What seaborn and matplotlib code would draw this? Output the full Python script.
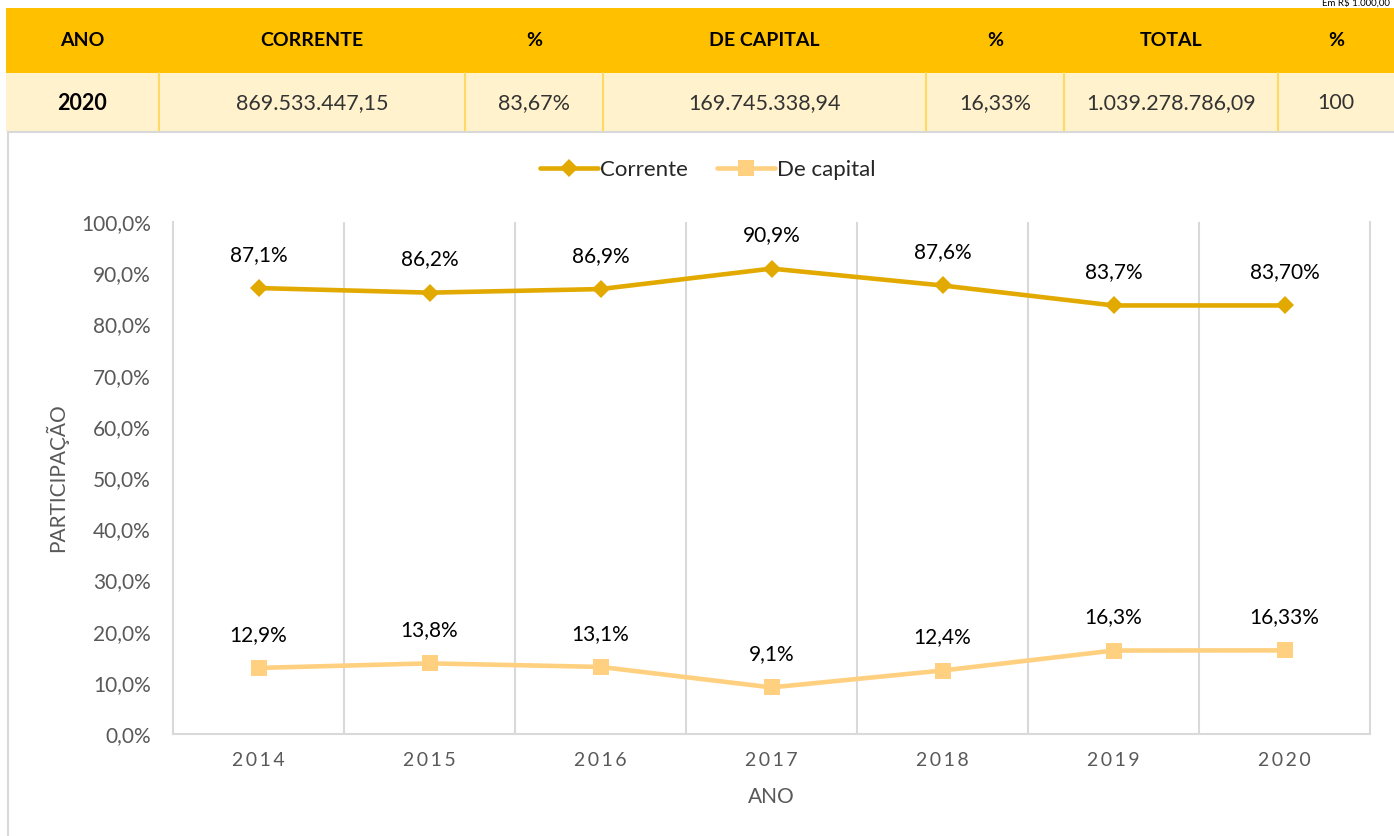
import numpy as np
import pandas as pd
import matplotlib
matplotlib.use("Agg")
import matplotlib.pyplot as plt
from matplotlib.patches import Rectangle
from matplotlib.lines import Line2D
import seaborn as sns

# ---------------- data ----------------
years = ["2014", "2015", "2016", "2017", "2018", "2019", "2020"]
corrente = [87.1, 86.2, 86.9, 90.9, 87.6, 83.7, 83.7]
corrente_labels = ["87,1%", "86,2%", "86,9%", "90,9%", "87,6%", "83,7%", "83,70%"]
capital = [12.9, 13.8, 13.1, 9.1, 12.4, 16.3, 16.33]
capital_labels = ["12,9%", "13,8%", "13,1%", "9,1%", "12,4%", "16,3%", "16,33%"]
series_names = ["Corrente", "De capital"]

table_header = ["ANO", "CORRENTE", "%", "DE CAPITAL", "%", "TOTAL", "%"]
table_row = ["2020", "869.533.447,15", "83,67%", "169.745.338,94", "16,33%",
             "1.039.278.786,09", "100"]
unit_note = "Em R$ 1.000,00"

# ---------------- style ----------------
sns.set_theme(style="white")
plt.rcParams["font.family"] = ["Lato", "DejaVu Sans"]

W, H = 1394, 836
fig = plt.figure(figsize=(W / 100, H / 100), dpi=100)

# background overlay axes in pixel coordinates for the table / borders
bg = fig.add_axes([0, 0, 1, 1], zorder=0)
bg.set_xlim(0, W)
bg.set_ylim(H, 0)
bg.axis("off")

gold = "#FFC000"
cream = "#FFF2CC"
cell_border = "#FFD966"
col_edges = [6, 159, 465, 603, 926, 1064, 1278, W]
hdr_top, hdr_bot, row_bot = 8, 73, 131

bg.add_patch(Rectangle((col_edges[0], hdr_top), W - col_edges[0], hdr_bot - hdr_top,
                       facecolor=gold, edgecolor="none"))
bg.add_patch(Rectangle((col_edges[0], hdr_bot), W - col_edges[0], row_bot - hdr_bot,
                       facecolor=cream, edgecolor="none"))
for xe in col_edges[1:-1]:
    bg.plot([xe, xe], [hdr_bot, row_bot], color=cell_border, lw=1.5)
for i in range(len(table_header)):
    xc = (col_edges[i] + col_edges[i + 1]) / 2
    bg.text(xc, (hdr_top + hdr_bot) / 2, table_header[i], ha="center", va="center",
            fontsize=14, fontweight="bold", color="black")
    bg.text(xc, (hdr_bot + row_bot) / 2 + 1, table_row[i], ha="center", va="center",
            fontsize=15.5, color="black" if i == 0 else "#333333",
            fontweight="bold" if i == 0 else "normal")
bg.text(W - 4, 8, unit_note, ha="right", va="bottom", fontsize=7, color="black")

# chart area border
bg.plot([8, W], [132, 132], color="#D9D9D9", lw=1.5)
bg.plot([8, 8], [132, H], color="#D9D9D9", lw=1.5)

# ---------------- chart ----------------
ax = fig.add_axes([173 / W, 1 - 734 / H, (1370 - 173) / W, (734 - 222) / H], zorder=1)
ax.patch.set_alpha(0)

df = pd.DataFrame({
    "x": list(range(len(years))) * 2,
    "valor": corrente + capital,
    "serie": [series_names[0]] * len(years) + [series_names[1]] * len(years),
})
palette = {series_names[0]: "#E2AA00", series_names[1]: "#FFD07F"}
markers = {series_names[0]: "D", series_names[1]: "s"}

sns.lineplot(data=df, x="x", y="valor", hue="serie", style="serie",
             markers=markers, dashes=False, palette=palette, ax=ax,
             linewidth=3.3, markersize=11, markeredgewidth=0, legend=False)
for ln in ax.lines:
    if ln.get_marker() == "D":
        ln.set_markersize(9.5)

for xi, (v, lab) in enumerate(zip(corrente, corrente_labels)):
    ax.annotate(lab, (xi, v), xytext=(0, 24), textcoords="offset points",
                ha="center", va="center", fontsize=15, color="black")
for xi, (v, lab) in enumerate(zip(capital, capital_labels)):
    ax.annotate(lab, (xi, v), xytext=(0, 24), textcoords="offset points",
                ha="center", va="center", fontsize=15, color="black")

ax.set_xlim(-0.5, len(years) - 0.5)
ax.set_ylim(0, 100)
ax.set_yticks(np.arange(0, 101, 10))
ax.set_yticklabels([f"{v:.1f}%".replace(".", ",") for v in np.arange(0, 101, 10)])
ax.set_xticks(range(len(years)))
ax.set_xticklabels(["\u2009".join(y) for y in years])
ax.set_xticks(np.arange(0.5, len(years) - 0.5, 1), minor=True)
ax.grid(False)
ax.grid(True, which="minor", axis="x", color="#D9D9D9", lw=1.5)
ax.tick_params(axis="both", which="both", length=0)
ax.tick_params(axis="y", pad=16, labelsize=15, labelcolor="#595959")
ax.tick_params(axis="x", pad=13, labelsize=14, labelcolor="#595959")

for side in ["left", "bottom", "right"]:
    ax.spines[side].set_color("#D9D9D9")
    ax.spines[side].set_linewidth(1.5)
ax.spines["top"].set_visible(False)

ax.set_xlabel("ANO", fontsize=15, color="#595959")
ax.set_ylabel("PARTICIPAÇÃO", fontsize=15, color="#595959")
ax.xaxis.set_label_coords(0.5, (734 - 797) / 512)
ax.yaxis.set_label_coords((57 - 173) / 1197, 0.5)
ax.xaxis.label.set_va("center")
ax.yaxis.label.set_va("center")

# legend
handles = [
    Line2D([], [], color=palette[series_names[0]], marker="D", markersize=9.5,
           markeredgewidth=0, lw=3.3),
    Line2D([], [], color=palette[series_names[1]], marker="s", markersize=11,
           markeredgewidth=0, lw=3.3),
]
fig.legend(handles, series_names, loc="center", bbox_to_anchor=(708 / W, 1 - 170 / H),
           ncol=2, frameon=False, fontsize=16, handlelength=2.6, columnspacing=1.3,
           handletextpad=0.1)

fig.savefig("out.png", dpi=100)
